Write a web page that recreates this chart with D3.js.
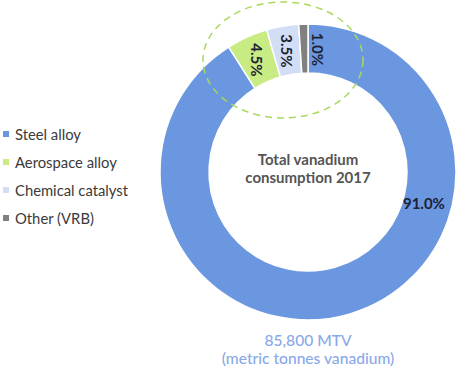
<!DOCTYPE html>
<html>
<head>
<meta charset="utf-8">
<script src="https://cdn.jsdelivr.net/npm/d3@7"></script>
<style>
  body { margin: 0; background: #fff; }
  svg { display: block; font-family: "Lato", "Open Sans", sans-serif; }
</style>
</head>
<body>
<div id="chart"></div>
<script>
// slices in clockwise order starting at 12 o'clock
const categories = ["Steel alloy", "Aerospace alloy", "Chemical catalyst", "Other (VRB)"];
const shares = [91.0, 4.5, 3.5, 1.0];
const colors = ["#6b96e0", "#c8eb84", "#d1def5", "#808080"];
const centerLines = ["Total vanadium", "consumption 2017"];
const footLines = ["85,800 MTV", "(metric tonnes vanadium)"];

const width = 464, height = 372;
const cx = 308, cy = 172;
const outerR = 148, innerR = 99;

const svg = d3.select("#chart").append("svg")
    .attr("width", width)
    .attr("height", height);

const data = categories.map((c, i) => ({ name: c, value: shares[i], color: colors[i] }));

const pie = d3.pie().sort(null).value(d => d.value);
const arc = d3.arc().innerRadius(innerR).outerRadius(outerR);

const arcs = pie(data);
const g = svg.append("g").attr("transform", `translate(${cx},${cy})`);

g.selectAll("path.slice")
    .data(arcs)
    .enter()
    .append("path")
    .attr("class", "slice")
    .attr("d", arc)
    .attr("fill", d => d.data.color)
    .attr("stroke", "#fff")
    .attr("stroke-width", 1.5);

// percent labels
arcs.forEach((d, i) => {
    let a, r, rot;
    if (i === 0) {
        // big slice: label sits on the right side
        a = 105 * Math.PI / 180; r = 120; rot = 0;
    } else if (d.endAngle >= 2 * Math.PI - 0.0001 && d.value < 2) {
        // tiny last slice: label pushed past 12 o'clock
        a = 4.6 * Math.PI / 180; r = 123; rot = 90;
    } else {
        a = (d.startAngle + d.endAngle) / 2; r = 123; rot = 90;
    }
    const x = r * Math.sin(a), y = -r * Math.cos(a);
    g.append("text")
        .attr("transform", `translate(${x},${y}) rotate(${rot})`)
        .attr("text-anchor", "middle")
        .attr("dominant-baseline", "central")
        .attr("font-size", 15)
        .attr("font-weight", "bold")
        .attr("fill", "#1c2233")
        .text(d.value.toFixed(1) + "%");
});

// dashed highlight around the small slices
svg.append("ellipse")
    .attr("cx", 283)
    .attr("cy", 60)
    .attr("rx", 80)
    .attr("ry", 58)
    .attr("fill", "none")
    .attr("stroke", "#a8d95c")
    .attr("stroke-width", 1.5)
    .attr("stroke-dasharray", "7,5");

// centre title
g.selectAll("text.center")
    .data(centerLines)
    .enter()
    .append("text")
    .attr("class", "center")
    .attr("x", 0)
    .attr("y", (d, i) => -13 + i * 18)
    .attr("text-anchor", "middle")
    .attr("dominant-baseline", "central")
    .attr("font-size", 15)
    .attr("font-weight", "bold")
    .attr("fill", "#555")
    .text(d => d);

// footnote
svg.selectAll("text.foot")
    .data(footLines)
    .enter()
    .append("text")
    .attr("class", "foot")
    .attr("x", cx)
    .attr("y", (d, i) => 340 + i * 18)
    .attr("text-anchor", "middle")
    .attr("dominant-baseline", "central")
    .attr("font-size", 15.6)
    .attr("font-weight", 500)
    .attr("fill", "#8aa9e8")
    .text(d => d);

// legend
const legend = svg.append("g").attr("class", "legend");
const rows = legend.selectAll("g")
    .data(data)
    .enter()
    .append("g")
    .attr("transform", (d, i) => `translate(3, ${134 + i * 28})`);

rows.append("rect")
    .attr("x", 0)
    .attr("y", -3)
    .attr("width", 6)
    .attr("height", 6)
    .attr("fill", d => d.color);

rows.append("text")
    .attr("x", 12)
    .attr("y", 0)
    .attr("dominant-baseline", "central")
    .attr("font-size", 14.8)
    .attr("fill", "#3a3a3a")
    .text(d => d.name);
</script>
</body>
</html>
